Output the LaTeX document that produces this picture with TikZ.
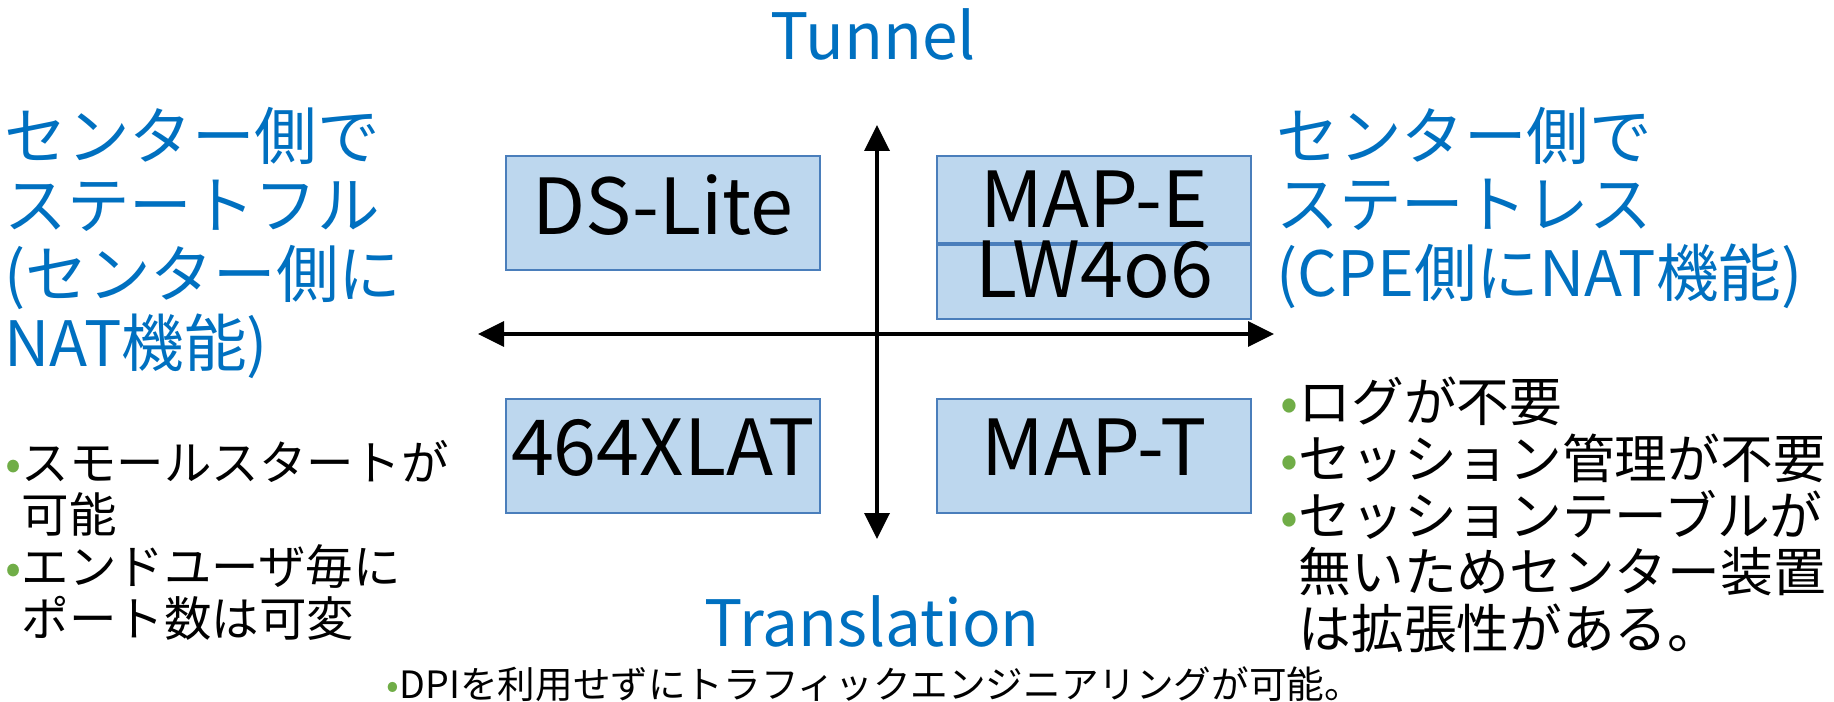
\documentclass[tikz,border=0pt]{standalone}
\usepackage{fontspec}
\setmainfont{Noto Sans CJK JP}
\usetikzlibrary{arrows.meta,positioning}
\definecolor{title}{HTML}{0070C0}
\definecolor{boxfill}{HTML}{BDD7EE}
\definecolor{boxline}{HTML}{4A7EBB}
\definecolor{dot}{HTML}{70AD47}
\newcommand{\gdot}{\textcolor{dot}{•}}
\tikzset{
  box/.style={
    draw=boxline, fill=boxfill, line width=0.6pt,
    minimum width=3.14cm, minimum height=1.14cm, inner sep=0pt,
    text depth=0.17cm, font=\fontsize{22}{26}\selectfont
  },
  side/.style={
    text=title, align=left, anchor=west, inner sep=0pt,
    font=\fontsize{17.8}{19.6}\selectfont
  },
  axislabel/.style={text=title, inner sep=0pt, font=\fontsize{18.2}{20}\selectfont},
  note/.style={align=left, anchor=west, inner sep=0pt},
  axis/.style={{Triangle[length=2.6mm,width=2.5mm]}-{Triangle[length=2.6mm,width=2.5mm]}, line width=1pt}
}
\begin{document}
\begin{tikzpicture}[node distance=1.15cm]
  \useasboundingbox (0,0) rectangle (18.34,-7.02);
  \node[box] (ds) at (6.63,-2.13) {DS-Lite};
  \node[box, minimum height=0.87cm, text depth=0cm, below right=0cm and 1.15cm of ds.north east] (mape) {MAP-E};
  \node[box, minimum height=0.74cm, text height=0.52cm, text depth=0.22cm, below=0pt of mape] (lw) {LW4o6};
  \node[box, below=1.27cm of ds] (xlat) {464XLAT};
  \node[box, right=1.15cm of xlat] (mapt) {MAP-T};
  \coordinate (ax-t) at (8.77,-1.25);
  \coordinate (ax-b) at (8.77,-5.39);
  \coordinate (ax-l) at (4.78,-3.34);
  \coordinate (ax-r) at (12.74,-3.34);
  \draw[axis] (ax-b) -- (ax-t);
  \draw[axis] (ax-l) -- (ax-r);
  \node[axislabel] (tunnel) at (8.73,-0.34) {Tunnel};
  \node[axislabel] (trans) at (8.72,-6.21) {Translation};
  \node[side] (stateful) at (0.04,-2.43) {センター側で\\ステートフル\\(センター側に\\NAT機能)};
  \node[side] (stateless) at (12.76,-2.08) {センター側で\\ステートレス\\(CPE側にNAT機能)};
  \node[note, font=\fontsize{13.5}{14.8}\selectfont] (pros) at (0.05,-5.40)
    {\gdot スモールスタートが\\\phantom{\gdot}可能\\\gdot エンドユーザ毎に\\\phantom{\gdot}ポート数は可変};
  \node[note, font=\fontsize{15}{16.1}\selectfont] (merits) at (12.80,-5.15)
    {\gdot ログが不要\\\gdot セッション管理が不要\\\gdot セッションテーブルが\\\phantom{\gdot}無いためセンター装置\\\phantom{\gdot}は拡張性がある。};
  \node[note, font=\fontsize{10.7}{12}\selectfont] (dpi) at (3.86,-6.84)
    {\gdot DPIを利用せずにトラフィックエンジニアリングが可能。};
\end{tikzpicture}
\end{document}
